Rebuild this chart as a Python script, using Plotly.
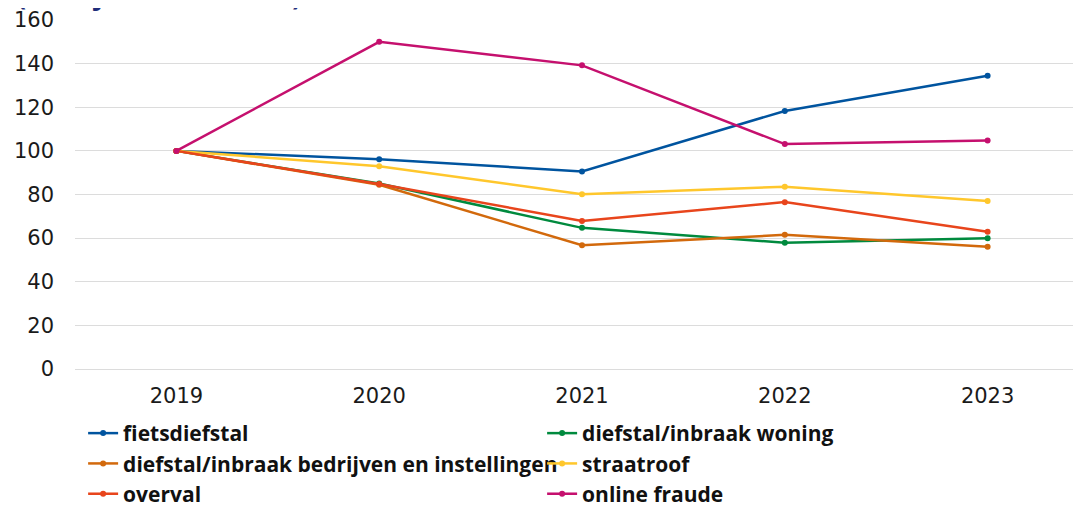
import plotly.graph_objects as go

years = ["2019", "2020", "2021", "2022", "2023"]
fietsdiefstal = [100, 96.2, 90.6, 118.3, 134.4]
inbraak_woning = [100, 85.0, 64.7, 57.9, 60.0]
inbraak_bedrijven = [100, 84.5, 56.7, 61.5, 56.0]
straatroof = [100, 93.0, 80.1, 83.6, 77.0]
overval = [100, 84.8, 67.9, 76.5, 62.9]
online_fraude = [100, 150.0, 139.2, 103.1, 104.7]

series = [
    ("fietsdiefstal", fietsdiefstal, "#00549F"),
    ("diefstal/inbraak woning", inbraak_woning, "#008A3E"),
    ("diefstal/inbraak bedrijven en instellingen", inbraak_bedrijven, "#D2690C"),
    ("straatroof", straatroof, "#FFC72C"),
    ("overval", overval, "#E8451C"),
    ("online fraude", online_fraude, "#C5106E"),
]

fig = go.Figure()
for name, vals, col in series:
    fig.add_trace(go.Scatter(
        x=years, y=vals, name=name, mode="lines+markers",
        line=dict(color=col, width=2.5), marker=dict(color=col, size=6),
    ))

fig.update_layout(
    width=1081, height=508,
    margin=dict(l=67, r=0, t=12, b=147),
    plot_bgcolor="white", paper_bgcolor="white",
    showlegend=True,
    legend=dict(
        orientation="h", x=0.008, xanchor="left", y=-0.126, yanchor="top",
        font=dict(family="Open Sans", size=21, color="#111111", weight="bold"),
        entrywidth=414, entrywidthmode="pixels", itemwidth=30,
        traceorder="normal",
    ),
    annotations=[dict(
        text="(basisjaar 2019 = 100)", xref="paper", yref="paper",
        x=-0.059, y=1.015, xanchor="left", yanchor="bottom", showarrow=False,
        font=dict(family="Open Sans", size=27, color="#1F2D7A", weight="bold"),
    )],
)
fig.update_xaxes(
    type="category", range=[-0.5, 4.5], showgrid=False, zeroline=False,
    showline=False, ticks="", tickfont=dict(family="DejaVu Sans", size=21, color="#1a1a1a"),
    ticklabelstandoff=12, automargin=False,
)
fig.update_yaxes(
    range=[0, 160], dtick=20, showgrid=True, gridcolor="#DCDCDC", gridwidth=1,
    zeroline=True, zerolinecolor="#DCDCDC", zerolinewidth=1,
    showline=False, ticks="", tickfont=dict(family="DejaVu Sans", size=21, color="#1a1a1a"),
    ticklabelstandoff=20, automargin=False,
)

fig.write_html("out.html")
